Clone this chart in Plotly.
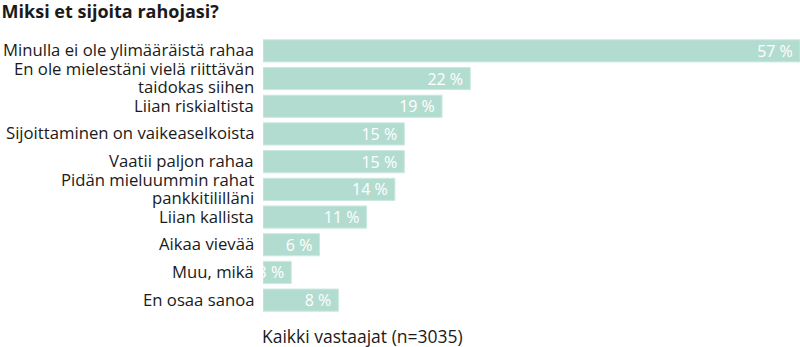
import plotly.graph_objects as go

categories = [
    "Minulla ei ole ylimääräistä rahaa",
    "En ole mielestäni vielä riittävän<br>taidokas siihen",
    "Liian riskialtista",
    "Sijoittaminen on vaikeaselkoista",
    "Vaatii paljon rahaa",
    "Pidän mieluummin rahat<br>pankkitililläni",
    "Liian kallista",
    "Aikaa vievää",
    "Muu, mikä",
    "En osaa sanoa",
]
values = [57, 22, 19, 15, 15, 14, 11, 6, 3, 8]
labels = [f"{v} %\u00a0" for v in values]

title_text = "Miksi et sijoita rahojasi?"
note_text = "Kaikki vastaajat (n=3035)"

FONT = "Open Sans"
TXT = "#1a1a1a"
LABEL_SIZE = 16.7
LINE_GAP = 17.5

fig = go.Figure(
    go.Bar(
        x=values,
        y=categories,
        orientation="h",
        text=labels,
        textposition="inside",
        insidetextanchor="end",
        constraintext="none",
        textangle=0,
        cliponaxis=True,
        textfont=dict(family=FONT, size=16, color="white"),
        marker=dict(color="#b3dcd0", line=dict(color="#cbe9e0", width=1)),
        hoverinfo="skip",
    )
)

# category labels drawn as annotations at each category position (tighter line spacing)
annotations = []
for cat in categories:
    lines = cat.split("<br>")
    n = len(lines)
    for i, line in enumerate(lines):
        offset = ((n - 1) / 2 - i) * LINE_GAP
        annotations.append(
            dict(
                text=line,
                xref="paper",
                x=0,
                xanchor="right",
                xshift=-8,
                yref="y",
                y=cat,
                yanchor="middle",
                yshift=offset + 1,
                showarrow=False,
                align="right",
                borderpad=0,
                font=dict(family=FONT, size=LABEL_SIZE, color=TXT),
            )
        )

annotations.append(
    dict(
        text=note_text,
        xref="paper",
        yref="paper",
        x=0,
        y=-0.08,
        xanchor="left",
        yanchor="middle",
        xshift=-2,
        borderpad=0,
        showarrow=False,
        font=dict(family=FONT, size=17.5, color=TXT),
    )
)

fig.update_layout(
    width=800,
    height=347,
    margin=dict(l=263, r=0, t=37, b=33),
    paper_bgcolor="white",
    plot_bgcolor="white",
    bargap=0.2,
    showlegend=False,
    font=dict(family=FONT, size=16, color=TXT),
    title=dict(
        text="<b>" + title_text + "</b>",
        x=0.002,
        xref="container",
        xanchor="left",
        y=0.965,
        yref="container",
        yanchor="middle",
        font=dict(family=FONT, size=18, color=TXT),
    ),
    xaxis=dict(
        range=[0, 57],
        showticklabels=False,
        showgrid=False,
        zeroline=False,
        showline=False,
        fixedrange=True,
    ),
    yaxis=dict(
        autorange="reversed",
        showgrid=False,
        zeroline=False,
        showline=False,
        ticks="",
        showticklabels=False,
    ),
    annotations=annotations,
)

fig.write_html("out.html")
